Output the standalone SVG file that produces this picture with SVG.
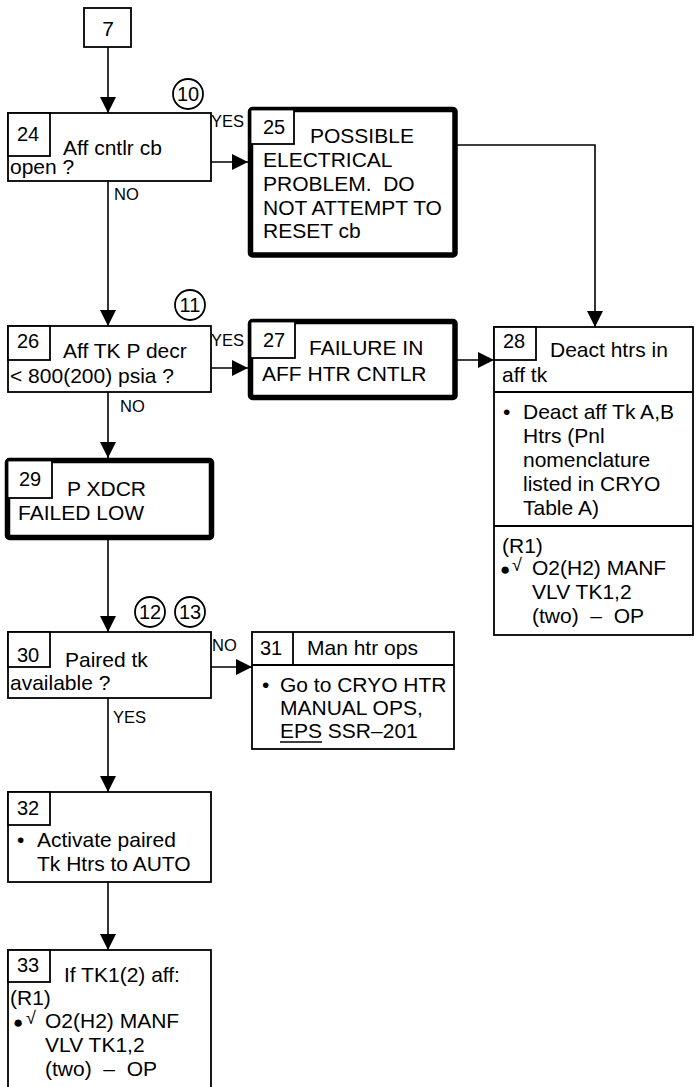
<svg xmlns="http://www.w3.org/2000/svg" width="696" height="1087" viewBox="0 0 696 1087">
<style>
text{font-family:"Liberation Sans",Arial,sans-serif;font-size:21px;fill:#000}
.num{font-size:20px}
.lbl{font-size:16.5px}
.cir{font-size:20px}
.chk{font-size:18px}
.dot{font-size:17px}
.bx{fill:#fff;stroke:#000;stroke-width:1.8}
.thick{fill:#fff;stroke:#000;stroke-width:5.5}
.ln{fill:none;stroke:#000;stroke-width:1.8}
.con{fill:none;stroke:#000;stroke-width:1.6}
</style>
<defs>
<marker id="arr" viewBox="0 0 16 16" refX="16" refY="8" markerWidth="16" markerHeight="16" markerUnits="userSpaceOnUse" orient="auto">
<path d="M0,0 L16,8 L0,16 z" fill="#000"/>
</marker>
</defs>
<rect width="696" height="1087" fill="#fff"/>
<g id="connectors">
<line class="con" x1="108" y1="47" x2="108" y2="113" marker-end="url(#arr)"/>
<line class="con" x1="211" y1="162" x2="248" y2="162" marker-end="url(#arr)"/>
<line class="con" x1="108" y1="181" x2="108" y2="326" marker-end="url(#arr)"/>
<polyline class="con" points="457,145 595,145 595,327" marker-end="url(#arr)"/>
<line class="con" x1="211" y1="368" x2="248" y2="368" marker-end="url(#arr)"/>
<line class="con" x1="108" y1="392" x2="108" y2="458" marker-end="url(#arr)"/>
<line class="con" x1="457" y1="360" x2="494" y2="360" marker-end="url(#arr)"/>
<line class="con" x1="108" y1="540" x2="108" y2="632" marker-end="url(#arr)"/>
<line class="con" x1="211" y1="667" x2="252" y2="667" marker-end="url(#arr)"/>
<line class="con" x1="108" y1="698" x2="108" y2="792" marker-end="url(#arr)"/>
<line class="con" x1="108" y1="882" x2="108" y2="950" marker-end="url(#arr)"/>
<text class="lbl" x="211" y="127">YES</text>
<text class="lbl" x="114" y="200">NO</text>
<text class="lbl" x="211" y="346">YES</text>
<text class="lbl" x="120" y="412">NO</text>
<text class="lbl" x="212" y="651">NO</text>
<text class="lbl" x="113" y="723">YES</text>
</g>
<g id="n7">
<rect class="bx" x="84" y="8" width="47" height="39"/>
<text x="108" y="36" text-anchor="middle">7</text>
</g>
<g id="c10">
<circle class="ln" cx="188" cy="94" r="15"/>
<text class="cir" x="188" y="101" text-anchor="middle">10</text>
</g>
<g id="n24">
<rect class="bx" x="8" y="113" width="203" height="68"/>
<rect class="bx" x="8" y="113" width="42" height="43"/>
<text class="num" x="17" y="141">24</text>
<text x="63" y="155">Aff cntlr cb</text>
<text x="10" y="174">open ?</text>
</g>
<g id="n25">
<rect class="thick" x="250.5" y="109.5" width="204.5" height="145.5" rx="2"/>
<rect class="bx" x="250.5" y="109.5" width="43.5" height="34.5"/>
<text class="num" x="263" y="134">25</text>
<text x="310" y="143">POSSIBLE</text>
<text x="263" y="167">ELECTRICAL</text>
<text x="263" y="191" xml:space="preserve">PROBLEM.  DO</text>
<text x="263" y="215">NOT ATTEMPT TO</text>
<text x="263" y="238">RESET cb</text>
</g>
<g id="c11">
<circle class="ln" cx="190" cy="305" r="15"/>
<text class="cir" x="190" y="312" text-anchor="middle">11</text>
</g>
<g id="n26">
<rect class="bx" x="8" y="326" width="203" height="66"/>
<rect class="bx" x="8" y="326" width="42" height="34"/>
<text class="num" x="17" y="348">26</text>
<text x="63" y="358">Aff TK P decr</text>
<text x="10" y="383">&lt; 800(200) psia ?</text>
</g>
<g id="n27">
<rect class="thick" x="250.5" y="321.5" width="204.5" height="76" rx="2"/>
<rect class="bx" x="250.5" y="321.5" width="44.5" height="36.5"/>
<text class="num" x="263" y="347">27</text>
<text x="309" y="355">FAILURE IN</text>
<text x="262" y="381">AFF HTR CNTLR</text>
</g>
<g id="n28">
<rect class="bx" x="494" y="327" width="199" height="308"/>
<rect class="bx" x="494" y="327" width="42" height="33"/>
<line class="ln" x1="494" y1="392" x2="693" y2="392"/>
<line class="ln" x1="494" y1="526" x2="693" y2="526"/>
<text class="num" x="503" y="348">28</text>
<text x="550" y="357">Deact htrs in</text>
<text x="502" y="382">aff tk</text>
<text x="503" y="419">•</text>
<text x="523" y="419">Deact aff Tk A,B</text>
<text x="523" y="443">Htrs (Pnl</text>
<text x="523" y="467">nomenclature</text>
<text x="523" y="491">listed in CRYO</text>
<text x="523" y="515">Table A)</text>
<text x="502" y="553">(R1)</text>
<text class="dot" x="500" y="575">●</text>
<text class="chk" x="512" y="571">√</text>
<text x="532" y="575">O2(H2) MANF</text>
<text x="532" y="599">VLV TK1,2</text>
<text x="532" y="623" xml:space="preserve">(two)  –  OP</text>
</g>
<g id="n29">
<rect class="thick" x="7.5" y="460.5" width="204" height="77" rx="2"/>
<rect class="bx" x="7.5" y="460.5" width="44.5" height="37.5"/>
<text class="num" x="19" y="486">29</text>
<text x="67" y="496">P XDCR</text>
<text x="18" y="520">FAILED LOW</text>
</g>
<g id="c12">
<circle class="ln" cx="150" cy="612" r="15"/>
<text class="cir" x="150" y="619" text-anchor="middle">12</text>
</g>
<g id="c13">
<circle class="ln" cx="190" cy="612" r="15"/>
<text class="cir" x="190" y="619" text-anchor="middle">13</text>
</g>
<g id="n30">
<rect class="bx" x="8" y="632" width="203" height="66"/>
<rect class="bx" x="8" y="632" width="42" height="35"/>
<text class="num" x="17" y="662">30</text>
<text x="65" y="667">Paired tk</text>
<text x="10" y="690">available ?</text>
</g>
<g id="n31">
<rect class="bx" x="252" y="632" width="202" height="117"/>
<line class="ln" x1="252" y1="665" x2="454" y2="665"/>
<line class="ln" x1="293" y1="632" x2="293" y2="665"/>
<text class="num" x="260" y="655">31</text>
<text x="307" y="655">Man htr ops</text>
<text x="262" y="692">•</text>
<text x="280" y="692">Go to CRYO HTR</text>
<text x="280" y="715">MANUAL OPS,</text>
<text x="280" y="738">EPS SSR–201</text>
<line x1="280" y1="742" x2="322" y2="742" stroke="#000" stroke-width="1.3"/>
</g>
<g id="n32">
<rect class="bx" x="8" y="792" width="203" height="90"/>
<rect class="bx" x="8" y="792" width="42" height="33"/>
<text class="num" x="17" y="815">32</text>
<text x="17" y="847">•</text>
<text x="37" y="847">Activate paired</text>
<text x="37" y="871">Tk Htrs to AUTO</text>
</g>
<g id="n33">
<rect class="bx" x="8" y="950" width="203" height="145"/>
<rect class="bx" x="8" y="950" width="42" height="32"/>
<text class="num" x="17" y="972">33</text>
<text x="64" y="982">If TK1(2) aff:</text>
<text x="10" y="1005">(R1)</text>
<text class="dot" x="13" y="1028">●</text>
<text class="chk" x="26" y="1024">√</text>
<text x="45" y="1028">O2(H2) MANF</text>
<text x="45" y="1052">VLV TK1,2</text>
<text x="45" y="1076" xml:space="preserve">(two)  –  OP</text>
</g>
</svg>
